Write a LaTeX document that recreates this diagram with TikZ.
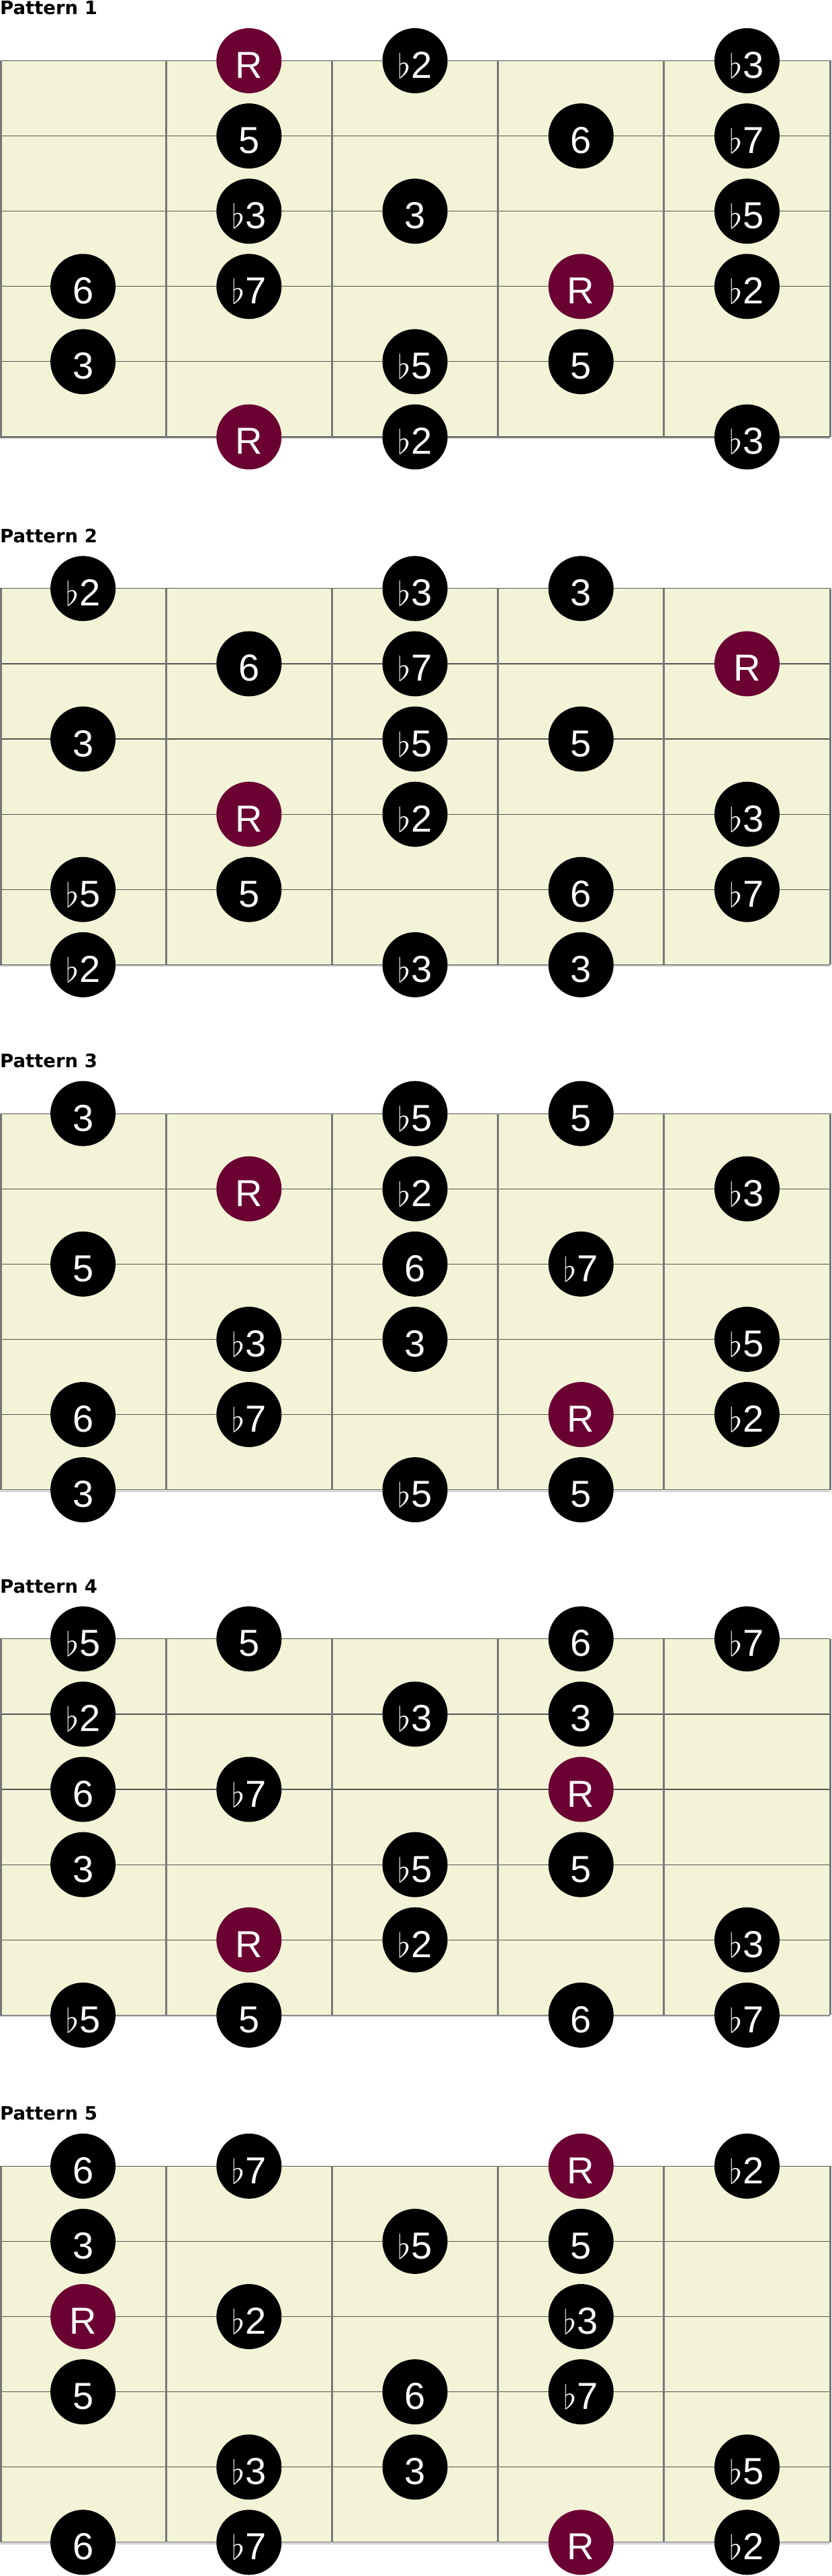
\documentclass[tikz,border=0pt]{standalone}
\usepackage{fix-cm}
\usepackage{fontspec}
\usepackage{xcolor}
\usepackage{tikz}
\newfontfamily\notefont{Liberation Sans}
\newfontfamily\titlefont{DejaVu Sans}
\definecolor{boardfill}{HTML}{F3F4D7}
\definecolor{rootred}{HTML}{6B0033}
\definecolor{fretgray}{HTML}{777777}
\definecolor{stringgray}{HTML}{555555}
\newcommand{\flt}{{\fontsize{50}{50}\selectfont$\flat$}\kern1pt}
\tikzset{note node/.style={circle,fill=black,text=white,minimum size=97pt,inner sep=0pt,
            font=\notefont\fontsize{56}{60}\selectfont,text height=52pt,text depth=0pt},
         root node/.style={note node,fill=rootred},
         title node/.style={anchor=base west,inner sep=0pt,
            font=\titlefont\bfseries\fontsize{27.5}{30}\selectfont},
            }
\newcommand{\fretboard}{%
  \fill[boardfill] (0,0) rectangle (5,5);
  \foreach \s in {0,...,5}
    \draw[stringgray,line width=1.2pt] (0,\s) -- (5,\s);
  \draw[black!20,line width=2pt] (0,5.018) -- (5,5.018);
  \foreach \f in {0.006,1,2,3,4,5}
    \draw[fretgray,line width=3pt] (\f,0) -- (\f,5);
}

\begin{document}
\begin{tikzpicture}[x=247.2pt,y=-112.1pt]
\useasboundingbox (0,0) rectangle (5.0081,34.237);

\begin{scope}[shift={(0,0.807)}]
\fretboard
\node[title node] (t1) at (0,-0.611) {Pattern 1};
\node[root node] (p1s0f2) at (1.5,0) {R};
\node[note node] (p1s0f3) at (2.5,0) {\flt2};
\node[note node] (p1s0f5) at (4.5,0) {\flt3};
\node[note node] (p1s1f2) at (1.5,1) {5};
\node[note node] (p1s1f4) at (3.5,1) {6};
\node[note node] (p1s1f5) at (4.5,1) {\flt7};
\node[note node] (p1s2f2) at (1.5,2) {\flt3};
\node[note node] (p1s2f3) at (2.5,2) {3};
\node[note node] (p1s2f5) at (4.5,2) {\flt5};
\node[note node] (p1s3f1) at (0.5,3) {6};
\node[note node] (p1s3f2) at (1.5,3) {\flt7};
\node[root node] (p1s3f4) at (3.5,3) {R};
\node[note node] (p1s3f5) at (4.5,3) {\flt2};
\node[note node] (p1s4f1) at (0.5,4) {3};
\node[note node] (p1s4f3) at (2.5,4) {\flt5};
\node[note node] (p1s4f4) at (3.5,4) {5};
\node[root node] (p1s5f2) at (1.5,5) {R};
\node[note node] (p1s5f3) at (2.5,5) {\flt2};
\node[note node] (p1s5f5) at (4.5,5) {\flt3};
\end{scope}

\begin{scope}[shift={(0,7.822)}]
\fretboard
\node[title node] (t2) at (0,-0.611) {Pattern 2};
\node[note node] (p2s0f1) at (0.5,0) {\flt2};
\node[note node] (p2s0f3) at (2.5,0) {\flt3};
\node[note node] (p2s0f4) at (3.5,0) {3};
\node[note node] (p2s1f2) at (1.5,1) {6};
\node[note node] (p2s1f3) at (2.5,1) {\flt7};
\node[root node] (p2s1f5) at (4.5,1) {R};
\node[note node] (p2s2f1) at (0.5,2) {3};
\node[note node] (p2s2f3) at (2.5,2) {\flt5};
\node[note node] (p2s2f4) at (3.5,2) {5};
\node[root node] (p2s3f2) at (1.5,3) {R};
\node[note node] (p2s3f3) at (2.5,3) {\flt2};
\node[note node] (p2s3f5) at (4.5,3) {\flt3};
\node[note node] (p2s4f1) at (0.5,4) {\flt5};
\node[note node] (p2s4f2) at (1.5,4) {5};
\node[note node] (p2s4f4) at (3.5,4) {6};
\node[note node] (p2s4f5) at (4.5,4) {\flt7};
\node[note node] (p2s5f1) at (0.5,5) {\flt2};
\node[note node] (p2s5f3) at (2.5,5) {\flt3};
\node[note node] (p2s5f4) at (3.5,5) {3};
\end{scope}

\begin{scope}[shift={(0,14.800)}]
\fretboard
\node[title node] (t3) at (0,-0.611) {Pattern 3};
\node[note node] (p3s0f1) at (0.5,0) {3};
\node[note node] (p3s0f3) at (2.5,0) {\flt5};
\node[note node] (p3s0f4) at (3.5,0) {5};
\node[root node] (p3s1f2) at (1.5,1) {R};
\node[note node] (p3s1f3) at (2.5,1) {\flt2};
\node[note node] (p3s1f5) at (4.5,1) {\flt3};
\node[note node] (p3s2f1) at (0.5,2) {5};
\node[note node] (p3s2f3) at (2.5,2) {6};
\node[note node] (p3s2f4) at (3.5,2) {\flt7};
\node[note node] (p3s3f2) at (1.5,3) {\flt3};
\node[note node] (p3s3f3) at (2.5,3) {3};
\node[note node] (p3s3f5) at (4.5,3) {\flt5};
\node[note node] (p3s4f1) at (0.5,4) {6};
\node[note node] (p3s4f2) at (1.5,4) {\flt7};
\node[root node] (p3s4f4) at (3.5,4) {R};
\node[note node] (p3s4f5) at (4.5,4) {\flt2};
\node[note node] (p3s5f1) at (0.5,5) {3};
\node[note node] (p3s5f3) at (2.5,5) {\flt5};
\node[note node] (p3s5f4) at (3.5,5) {5};
\end{scope}

\begin{scope}[shift={(0,21.782)}]
\fretboard
\node[title node] (t4) at (0,-0.611) {Pattern 4};
\node[note node] (p4s0f1) at (0.5,0) {\flt5};
\node[note node] (p4s0f2) at (1.5,0) {5};
\node[note node] (p4s0f4) at (3.5,0) {6};
\node[note node] (p4s0f5) at (4.5,0) {\flt7};
\node[note node] (p4s1f1) at (0.5,1) {\flt2};
\node[note node] (p4s1f3) at (2.5,1) {\flt3};
\node[note node] (p4s1f4) at (3.5,1) {3};
\node[note node] (p4s2f1) at (0.5,2) {6};
\node[note node] (p4s2f2) at (1.5,2) {\flt7};
\node[root node] (p4s2f4) at (3.5,2) {R};
\node[note node] (p4s3f1) at (0.5,3) {3};
\node[note node] (p4s3f3) at (2.5,3) {\flt5};
\node[note node] (p4s3f4) at (3.5,3) {5};
\node[root node] (p4s4f2) at (1.5,4) {R};
\node[note node] (p4s4f3) at (2.5,4) {\flt2};
\node[note node] (p4s4f5) at (4.5,4) {\flt3};
\node[note node] (p4s5f1) at (0.5,5) {\flt5};
\node[note node] (p4s5f2) at (1.5,5) {5};
\node[note node] (p4s5f4) at (3.5,5) {6};
\node[note node] (p4s5f5) at (4.5,5) {\flt7};
\end{scope}

\begin{scope}[shift={(0,28.789)}]
\fretboard
\node[title node] (t5) at (0,-0.611) {Pattern 5};
\node[note node] (p5s0f1) at (0.5,0) {6};
\node[note node] (p5s0f2) at (1.5,0) {\flt7};
\node[root node] (p5s0f4) at (3.5,0) {R};
\node[note node] (p5s0f5) at (4.5,0) {\flt2};
\node[note node] (p5s1f1) at (0.5,1) {3};
\node[note node] (p5s1f3) at (2.5,1) {\flt5};
\node[note node] (p5s1f4) at (3.5,1) {5};
\node[root node] (p5s2f1) at (0.5,2) {R};
\node[note node] (p5s2f2) at (1.5,2) {\flt2};
\node[note node] (p5s2f4) at (3.5,2) {\flt3};
\node[note node] (p5s3f1) at (0.5,3) {5};
\node[note node] (p5s3f3) at (2.5,3) {6};
\node[note node] (p5s3f4) at (3.5,3) {\flt7};
\node[note node] (p5s4f2) at (1.5,4) {\flt3};
\node[note node] (p5s4f3) at (2.5,4) {3};
\node[note node] (p5s4f5) at (4.5,4) {\flt5};
\node[note node] (p5s5f1) at (0.5,5) {6};
\node[note node] (p5s5f2) at (1.5,5) {\flt7};
\node[root node] (p5s5f4) at (3.5,5) {R};
\node[note node] (p5s5f5) at (4.5,5) {\flt2};
\end{scope}
\end{tikzpicture}
\end{document}
